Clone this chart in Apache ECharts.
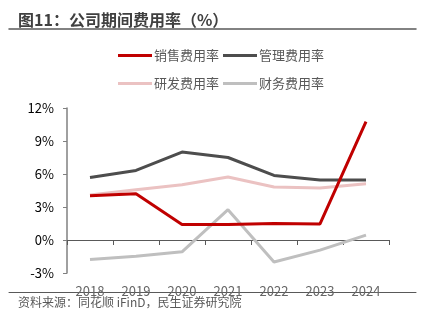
<!DOCTYPE html>
<html><head><meta charset="utf-8">
<script src="https://cdn.jsdelivr.net/npm/echarts@6/dist/echarts.min.js"></script>
<style>html,body{margin:0;padding:0;background:#fff}#c{width:431px;height:326px}</style>
</head><body><div id="c"></div>
<script>
const years = ['2018','2019','2020','2021','2022','2023','2024'];
const sales = [4.03, 4.2, 1.4, 1.4, 1.5, 1.46, 10.76];
const mgmt = [5.69, 6.32, 7.99, 7.5, 5.87, 5.45, 5.45];
const rd = [4.1, 4.57, 5.03, 5.72, 4.82, 4.73, 5.12];
const fin = [-1.77, -1.47, -1.07, 2.76, -2.0, -0.92, 0.44];
const yTicks = {min: -3, max: 12, interval: 3};

const font = '"Noto Sans CJK SC", "Noto Sans", sans-serif';
const chart = echarts.init(document.getElementById('c'));
function s(name, data, color, z) {
  return {name, type: 'line', data, symbol: 'none', z,
    lineStyle: {color, width: 3}, itemStyle: {color}};
}
const legendCommon = {icon: 'rect', itemWidth: 34, itemHeight: 3, itemGap: 4,
  textStyle: {fontFamily: font, fontSize: 13, color: '#595959', padding: [0,0,0,-3]}};
function ruleAxis(gridIndex, width) {
  return {type: 'value', gridIndex, min: 0, max: 1, position: 'bottom',
    axisLine: {show: true, onZero: false, lineStyle: {color: '#595959', width}},
    axisTick: {show: false}, axisLabel: {show: false}, splitLine: {show: false}};
}
function hiddenY(gridIndex) {
  return {type: 'value', gridIndex, min: 0, max: 1, show: false, splitLine: {show: false}};
}
chart.setOption({
  animation: false,
  title: {text: '图11：公司期间费用率（%）', left: 13, top: 7,
    textStyle: {fontFamily: font, fontSize: 16, fontWeight: 'bold', color: '#404040'}},
  legend: [
    Object.assign({data: ['销售费用率','管理费用率'], left: 113, top: 44}, legendCommon),
    Object.assign({data: ['研发费用率','财务费用率'], left: 113, top: 72}, legendCommon)
  ],
  grid: [
    {left: 67, right: 42, top: 108, bottom: 53},
    {left: 9, width: 407, top: 19, height: 10},
    {left: 9, width: 407, top: 282, height: 10}
  ],
  xAxis: [
    {type: 'category', data: years, boundaryGap: true,
      axisLine: {onZero: true, lineStyle: {color: '#595959', width: 1}},
      axisTick: {show: true, length: 5, lineStyle: {color: '#595959'}},
      axisLabel: {fontFamily: font, fontSize: 13, color: '#666', margin: 12}},
    ruleAxis(1, 1.5),
    ruleAxis(2, 1)
  ],
  yAxis: [
    {type: 'value', min: yTicks.min, max: yTicks.max, interval: yTicks.interval,
      axisLine: {show: true, lineStyle: {color: '#808080', width: 1.5}},
      axisTick: {show: true, length: 4, lineStyle: {color: '#808080'}},
      splitLine: {show: false},
      axisLabel: {fontFamily: font, fontSize: 13, color: '#000', margin: 13, formatter: '{value}%'}},
    hiddenY(1),
    hiddenY(2)
  ],
  series: [
    s('销售费用率', sales, '#C00000', 4),
    s('管理费用率', mgmt, '#4D4D4D', 3),
    s('研发费用率', rd, '#EBC2C2', 2),
    s('财务费用率', fin, '#BFBFBF', 1)
  ],
  graphic: {elements: [
    {type: 'text', id: 'src', left: 18, top: 296, z: 100, style: {text: '资料来源：同花顺 iFinD，民生证券研究院',
      font: '12px ' + font, fill: '#595959'}}
  ]}
});
</script></body></html>
